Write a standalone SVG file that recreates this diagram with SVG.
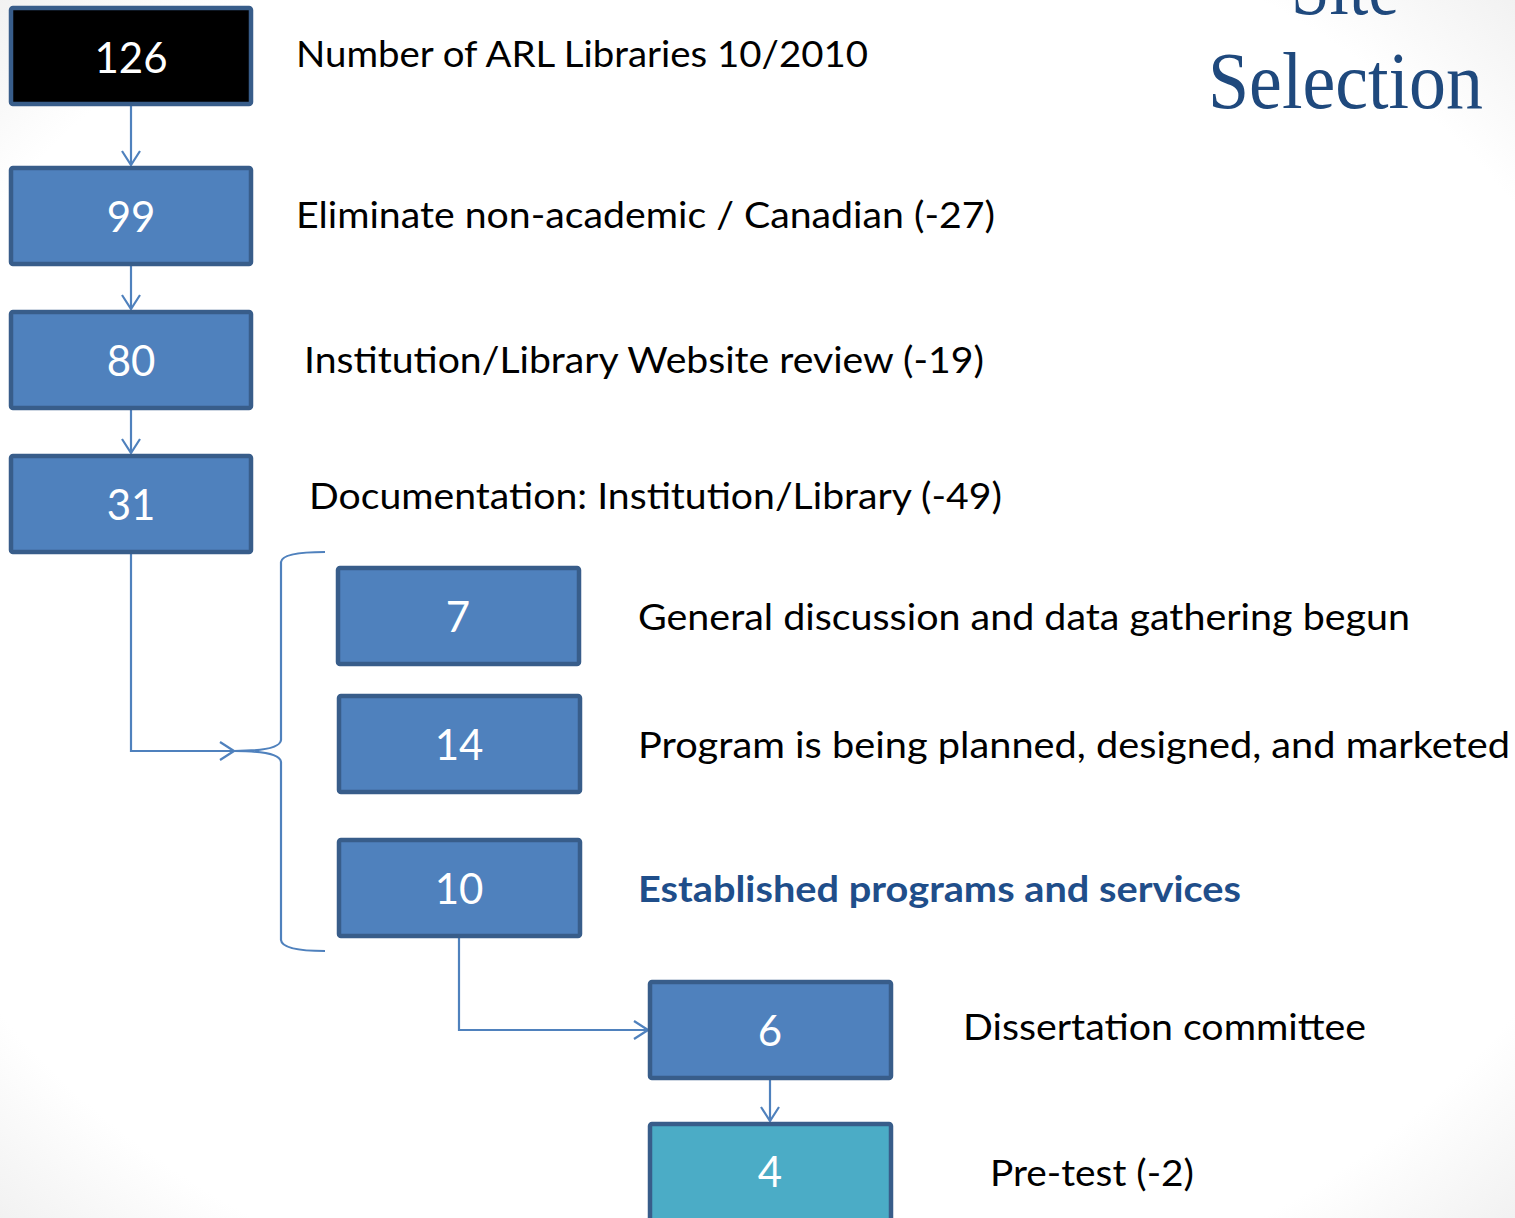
<svg xmlns="http://www.w3.org/2000/svg" width="1515" height="1218" viewBox="0 0 1515 1218">
<style>
.box{fill:#4f81bd;stroke:#385d8a;stroke-width:4.5}
.dark{fill:#000000}
.teal{fill:#4bacc6}
.num{font-family:Lato,"Liberation Sans",sans-serif;font-size:42px;fill:#ffffff;text-anchor:middle}
.lbl{font-family:Lato,"Liberation Sans",sans-serif;font-size:37px;fill:#000000}
.bold{font-weight:bold;fill:#1f4e8a}
.title{font-family:"Liberation Serif","DejaVu Serif",serif;font-size:80px;fill:#1f497d}
.conn{fill:none;stroke:#4f81bd;stroke-width:2.2}
</style>
<defs>
<radialGradient id="bg" cx="50%" cy="50%" r="75%">
<stop offset="0.8" stop-color="#ffffff"/>
<stop offset="1" stop-color="#ececec"/>
</radialGradient>
<marker id="arr" viewBox="0 0 16 20" refX="15" refY="10" markerWidth="16" markerHeight="20" markerUnits="userSpaceOnUse" orient="auto">
<path d="M1,1 L15,10 L1,19" fill="none" stroke="#4f81bd" stroke-width="2.2"/>
</marker>
</defs>
<rect x="0" y="0" width="1515" height="1218" fill="url(#bg)"/>

<g id="title">
<text class="title" x="1345" y="14" text-anchor="middle" textLength="108" lengthAdjust="spacingAndGlyphs">Site</text>
<text class="title" x="1208" y="108" textLength="275" lengthAdjust="spacingAndGlyphs">Selection</text>
</g>

<g id="connectors">
<path class="conn" d="M131,106 L131,165" marker-end="url(#arr)"/>
<path class="conn" d="M131,266 L131,309" marker-end="url(#arr)"/>
<path class="conn" d="M131,410 L131,453" marker-end="url(#arr)"/>
<path class="conn" d="M131,554 L131,751 L234,751" marker-end="url(#arr)"/>
<path class="conn" d="M325,552 Q282,552 281,562 L281,740 Q280,751 234,751 Q280,751 281,762 L281,940 Q282,951 325,951"/>
<path class="conn" d="M459,938 L459,1030 L648,1030" marker-end="url(#arr)"/>
<path class="conn" d="M770,1080 L770,1121" marker-end="url(#arr)"/>
</g>

<g id="n126">
<rect class="box dark" x="11" y="8" width="240" height="96" rx="2"/>
<text class="num" x="131" y="73">126</text>
<text class="lbl" x="296" y="67" textLength="572" lengthAdjust="spacingAndGlyphs">Number of ARL Libraries 10/2010</text>
</g>
<g id="n99">
<rect class="box" x="11" y="168" width="240" height="96" rx="2"/>
<text class="num" x="131" y="232">99</text>
<text class="lbl" x="296" y="228" textLength="699" lengthAdjust="spacingAndGlyphs">Eliminate non-academic / Canadian (-27)</text>
</g>
<g id="n80">
<rect class="box" x="11" y="312" width="240" height="96" rx="2"/>
<text class="num" x="131" y="376">80</text>
<text class="lbl" x="304" y="373" textLength="680" lengthAdjust="spacingAndGlyphs">Institution/Library Website review (-19)</text>
</g>
<g id="n31">
<rect class="box" x="11" y="456" width="240" height="96" rx="2"/>
<text class="num" x="131" y="520">31</text>
<text class="lbl" x="309" y="509" textLength="693" lengthAdjust="spacingAndGlyphs">Documentation: Institution/Library (-49)</text>
</g>
<g id="n7">
<rect class="box" x="338" y="568" width="241" height="96" rx="2"/>
<text class="num" x="458" y="632">7</text>
<text class="lbl" x="638" y="630" textLength="772" lengthAdjust="spacingAndGlyphs">General discussion and data gathering begun</text>
</g>
<g id="n14">
<rect class="box" x="339" y="696" width="241" height="96" rx="2"/>
<text class="num" x="459" y="760">14</text>
<text class="lbl" x="638" y="758" textLength="872" lengthAdjust="spacingAndGlyphs">Program is being planned, designed, and marketed</text>
</g>
<g id="n10">
<rect class="box" x="339" y="840" width="241" height="96" rx="2"/>
<text class="num" x="459" y="904">10</text>
<text class="lbl bold" x="638" y="902" textLength="603" lengthAdjust="spacingAndGlyphs">Established programs and services</text>
</g>
<g id="n6">
<rect class="box" x="650" y="982" width="241" height="96" rx="2"/>
<text class="num" x="770" y="1046">6</text>
<text class="lbl" x="963" y="1040" textLength="403" lengthAdjust="spacingAndGlyphs">Dissertation committee</text>
</g>
<g id="n4">
<rect class="box teal" x="650" y="1124" width="241" height="100" rx="2"/>
<text class="num" x="770" y="1187">4</text>
<text class="lbl" x="990" y="1186" textLength="204" lengthAdjust="spacingAndGlyphs">Pre-test (-2)</text>
</g>
</svg>
